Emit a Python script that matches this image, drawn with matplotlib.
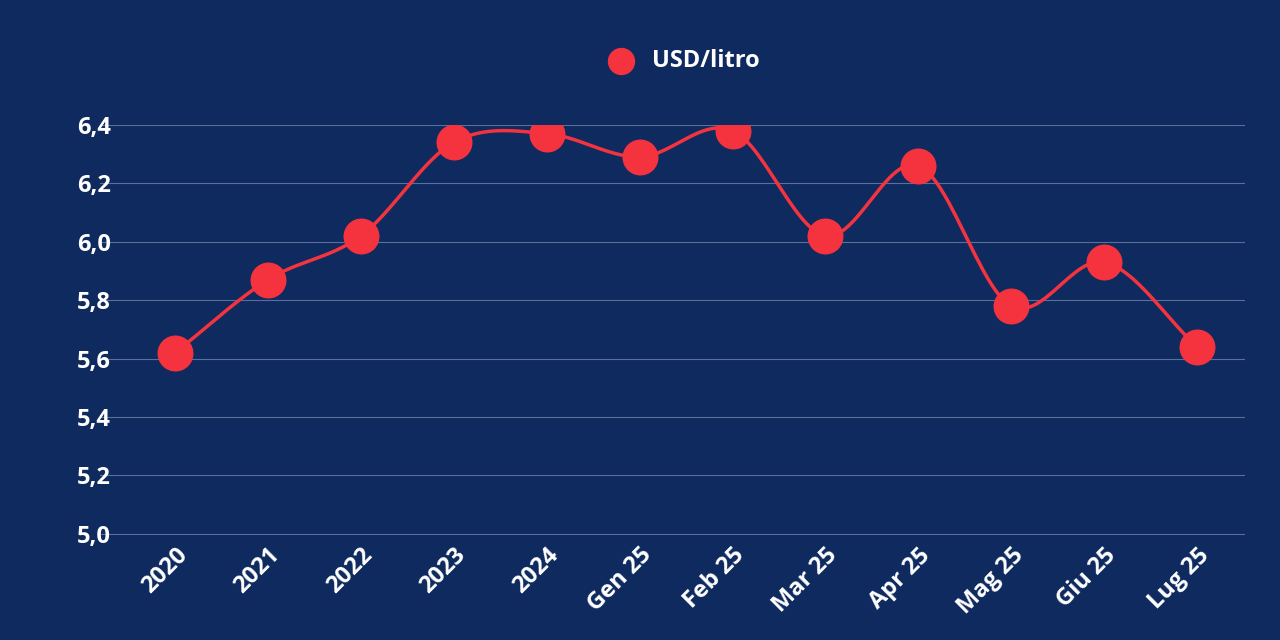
import matplotlib

matplotlib.use("Agg")
import matplotlib.pyplot as plt
import numpy as np

categories = ["2020", "2021", "2022", "2023", "2024", "Gen 25", "Feb 25",
              "Mar 25", "Apr 25", "Mag 25", "Giu 25", "Lug 25"]
prices = [5.62, 5.87, 6.02, 6.34, 6.37, 6.29, 6.38, 6.02, 6.26, 5.78, 5.93, 5.64]
yticks = [5.0, 5.2, 5.4, 5.6, 5.8, 6.0, 6.2, 6.4]
series_label = "USD/litro"

BG = "#0e2a5e"
RED = "#f5333f"


def catmull_rom(xs, ys, steps=30):
    # smooth line through the points, drawing only
    px = np.concatenate([[2 * xs[0] - xs[1]], xs, [2 * xs[-1] - xs[-2]]])
    py = np.concatenate([[2 * ys[0] - ys[1]], ys, [2 * ys[-1] - ys[-2]]])
    outx, outy = [], []
    t = np.linspace(0, 1, steps)
    for i in range(1, len(px) - 2):
        for p, out in ((px, outx), (py, outy)):
            p0, p1, p2, p3 = p[i - 1], p[i], p[i + 1], p[i + 2]
            out.extend(0.5 * ((2 * p1) + (-p0 + p2) * t
                              + (2 * p0 - 5 * p1 + 4 * p2 - p3) * t ** 2
                              + (-p0 + 3 * p1 - 3 * p2 + p3) * t ** 3))
    return np.array(outx), np.array(outy)


plt.rcParams["font.family"] = ["Open Sans", "DejaVu Sans"]
plt.rcParams["font.weight"] = "bold"

fig = plt.figure(figsize=(12.8, 6.4), dpi=100, facecolor=BG)
ax = fig.add_axes([0.078, 0.164, 0.895, 0.641], facecolor=BG)

x = np.arange(len(categories), dtype=float)
sx, sy = catmull_rom(x, np.array(prices))
ax.plot(sx, sy, color=RED, linewidth=2.5, zorder=3)
ax.scatter(x, prices, s=620, color=RED, zorder=4, label=series_label)

ax.set_xlim(-0.81, 11.52)
ax.set_ylim(4.996, 6.4)
ax.set_yticks(yticks, [f"{v:.1f}".replace(".", ",") for v in yticks])
ax.set_xticks(x, categories, rotation=45, ha="right", rotation_mode="anchor")
ax.tick_params(colors="white", labelsize=17, length=0)
ax.tick_params(axis="x", pad=6)
ax.tick_params(axis="y", pad=-8)
ax.grid(axis="y", color="#5a7099", linewidth=0.8)
ax.set_axisbelow(True)
for spine in ax.spines.values():
    spine.set_visible(False)

leg = fig.legend(loc="center", bbox_to_anchor=(0.53, 0.905), frameon=False,
                 fontsize=17, markerscale=0.75, handletextpad=0.3)
for t in leg.get_texts():
    t.set_color("white")
    t.set_fontweight("bold")

fig.savefig("out.png", dpi=100, facecolor=BG)
